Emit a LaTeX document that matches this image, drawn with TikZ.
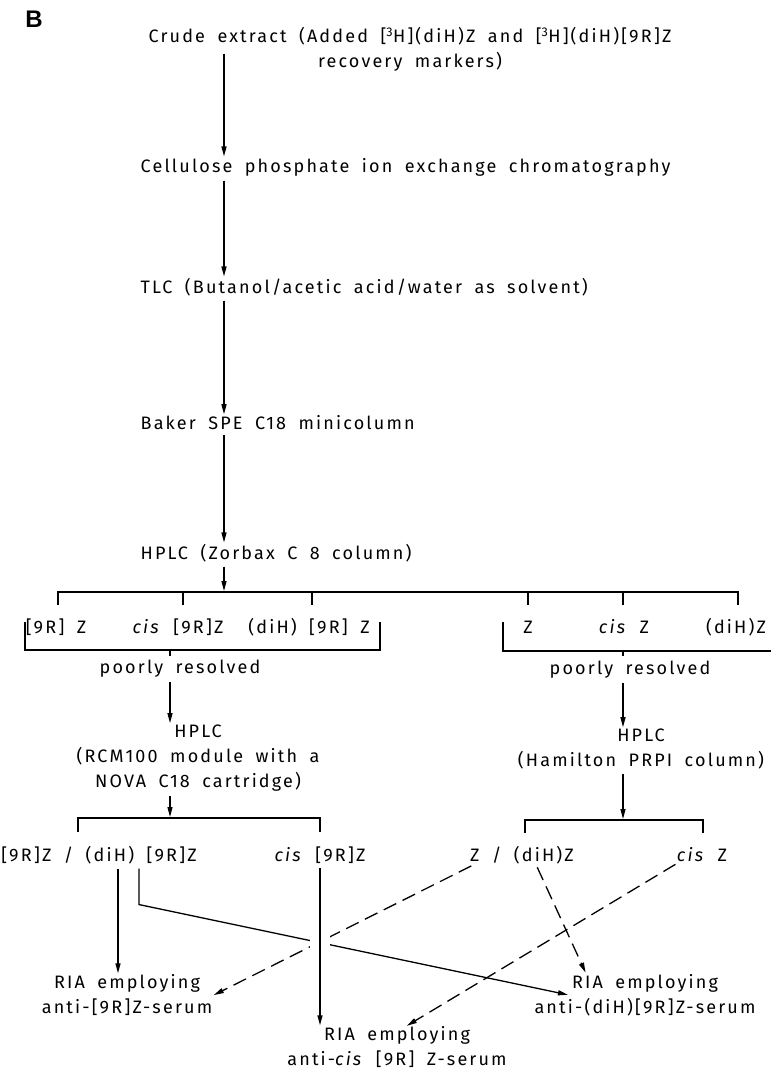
\documentclass[tikz,border=0pt]{standalone}
\usepackage{fontspec}
\setmainfont[LetterSpace=12, WordSpace=1.8]{Fira Sans}
\newfontfamily\panelfont{Liberation Sans}
\usetikzlibrary{arrows.meta, positioning}
\tikzset{
  ->, % every path is directed unless it says otherwise
  >={Triangle[length=10pt, width=5pt]}, % narrow filled heads
  every node/.style={inner sep=0pt, font=\fontsize{18}{25}\selectfont},
  stage/.style={anchor=west}, % left-aligned purification steps
  assay/.style={align=center}, % centred multi-line blocks
  bracket/.style={-}, % brackets carry no heads
  flow/.style={shorten <=4pt, shorten >=1pt},
  crossflow/.style={dash pattern=on 14pt off 7pt, shorten <=3pt, shorten >=1pt},
}

\begin{document}
\begin{tikzpicture}[x=1pt, y=-1pt, line width=1.3pt]
  \useasboundingbox (0,0) rectangle (771,1071);
  \coordinate (spine) at (224,0);
  \coordinate (spineL) at (170,0);
  \coordinate (spineR) at (623,0);

  \node[font=\panelfont\bfseries\fontsize{24}{24}\selectfont] (panel) at (34,19) {B};

  % purification sequence
  \node[assay] (crude) at (410,49.5) {Crude extract (Added [\textsuperscript{3}H](diH)Z and [\textsuperscript{3}H](diH)[9R]Z\\recovery markers)};
  \node[stage] (cellu) at (140,167) {Cellulose phosphate ion exchange chromatography};
  \node[stage] (tlc) at (140,287) {TLC (Butanol/acetic acid/water as solvent)};
  \node[stage] (baker) at (140,423) {Baker SPE C18 minicolumn};
  \node[stage] (zorbax) at (140,553) {HPLC (Zorbax C 8 column)};

  \draw[flow] (spine |- crude.center) -- (spine |- cellu.north);
  \draw[flow] (spine |- cellu.south) -- (spine |- tlc.north);
  \draw[flow] (spine |- tlc.south) -- (spine |- baker.north);
  \draw[flow] (spine |- baker.south) -- (spine |- zorbax.north);

  % first separation
  \coordinate (fork1) at (224,592);
  \draw[flow] (spine |- zorbax.south) -- (fork1);
  \draw[bracket] (58,605) |- (738,592) -- (738,605);
  \foreach \x in {183,312,528,623}
    \draw[bracket] (\x,592) -- (\x,605);

  \node (r9z) at (56,627) {[9R] Z};
  \node (cisr9z) at (178,627) {\textit{cis} [9R]Z};
  \node (dihr9z) at (309,627) {(diH) [9R] Z};
  \node (zz) at (528,627) {Z};
  \node (cisz) at (624,627) {\textit{cis} Z};
  \node (dihz) at (736,627) {(diH)Z};

  \draw[bracket] (25,622) |- (380,650) -- (380,622);
  \draw[bracket] (170,650) -- (170,656);
  \draw[bracket] (503,622) |- (771,651);
  \draw[bracket] (623,651) -- (623,656);

  \node (poorL) at (180,669) {poorly resolved};
  \node (poorR) at (630,670) {poorly resolved};

  \node[assay] (rcm) at (198,758) {HPLC\\(RCM100 module with a\\NOVA C18 cartridge)};
  \node[assay] (hamilton) at (641,749) {HPLC\\(Hamilton PRPI column)};

  \draw[flow] (poorL.south -| spineL) -- (spineL |- rcm.north);
  \draw[flow] (poorR.south -| spineR) -- (spineR |- hamilton.north);

  % second separation
  \coordinate (fork2L) at (170,818);
  \coordinate (fork2R) at (623,820);
  \draw[flow] (spineL |- rcm.south) -- (fork2L);
  \draw[flow] (spineR |- hamilton.south) -- (fork2R);
  \draw[bracket] (78,832) |- (320,818) -- (320,832);
  \draw[bracket] (525,833) |- (703,820) -- (703,833);

  \node (mixL) at (99,855) {[9R]Z / (diH) [9R]Z};
  \node (cisL) at (320,855) {\textit{cis} [9R]Z};
  \node (mixR) at (522,855) {Z / (diH)Z};
  \node (cisR) at (702,855) {\textit{cis} Z};

  % radioimmunoassays
  \node[assay] (riaL) at (127,995.5) {RIA employing\\anti-[9R]Z-serum};
  \node[assay] (riaR) at (645,995) {RIA employing\\anti-(diH)[9R]Z-serum};
  \node[assay] (riaM) at (397,1047.5) {RIA employing\\anti-\textit{cis} [9R] Z-serum};

  \draw[flow] ([xshift=19pt]mixL.south) -- ([xshift=-9pt]riaL.north);
  \draw[flow] ([xshift=40pt]mixL.south) -- ++(0,40) -- ([xshift=35pt]riaR.west);
  \draw[crossflow] ([xshift=-48pt]mixR.south) -- (riaL.east);
  \draw[crossflow] ([xshift=14pt]mixR.south) -- ([xshift=-59pt]riaR.north);
  \draw[crossflow] ([xshift=-24pt]cisR.south) -- ([xshift=9pt]riaM.north);
  \draw[flow, preaction={draw=white, line width=20pt, -, shorten >=40pt}]
    (cisL.south) -- (cisL.south |- riaM.north);
\end{tikzpicture}
\end{document}
